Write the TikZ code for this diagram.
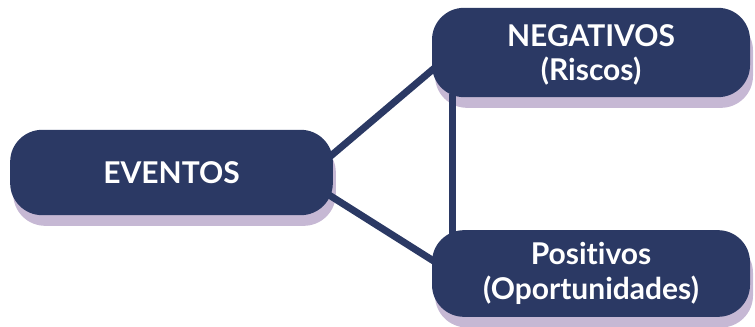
\documentclass[tikz,border=0pt]{standalone}
\usepackage{fontspec}
\setmainfont[Ligatures=NoCommon]{Lato}
\usetikzlibrary{shadows}

\definecolor{navy}{RGB}{43,57,100}
\definecolor{lilac}{RGB}{198,184,212}

\tikzset{every picture/.style={line width=0.75pt}}
\tikzset{
  evbox/.style={rectangle, rounded corners=24pt, fill=navy, text=white,
    font=\bfseries\fontsize{22.5}{26}\selectfont, align=center,
    general shadow={fill=lilac, shadow xshift=2.25pt, shadow yshift=-8pt}},
  link/.style={draw=navy, line width=5.25pt}
}

\begin{document}
\begin{tikzpicture}[x=0.75pt,y=0.75pt,yscale=-1,xscale=1]
\useasboundingbox (0,0) rectangle (755,327);

%Boxes
\node[evbox, minimum width=242pt, minimum height=64pt] (evt) at (171.5,172.5) {EVENTOS};
\node[evbox, minimum width=238.5pt, minimum height=67pt, text depth=-1pt] (neg) at (591,52.5) {NEGATIVOS\\(Riscos)};
\node[evbox, minimum width=238.5pt, minimum height=65pt] (pos) at (591,273.5) {Positivos\\(Oportunidades)};

%Connectors
\draw[link] ([xshift=-3pt,yshift=-11.5pt]evt.east) -- ([xshift=3pt,yshift=11pt]neg.west);
\draw[link] ([xshift=-3pt,yshift=17pt]evt.east) -- ([xshift=3pt,yshift=-8.5pt]pos.west);
\draw[link] ([xshift=15.75pt,yshift=-3pt]neg.south west) -- ([xshift=15.75pt,yshift=3pt]pos.north west);

\end{tikzpicture}
\end{document}
